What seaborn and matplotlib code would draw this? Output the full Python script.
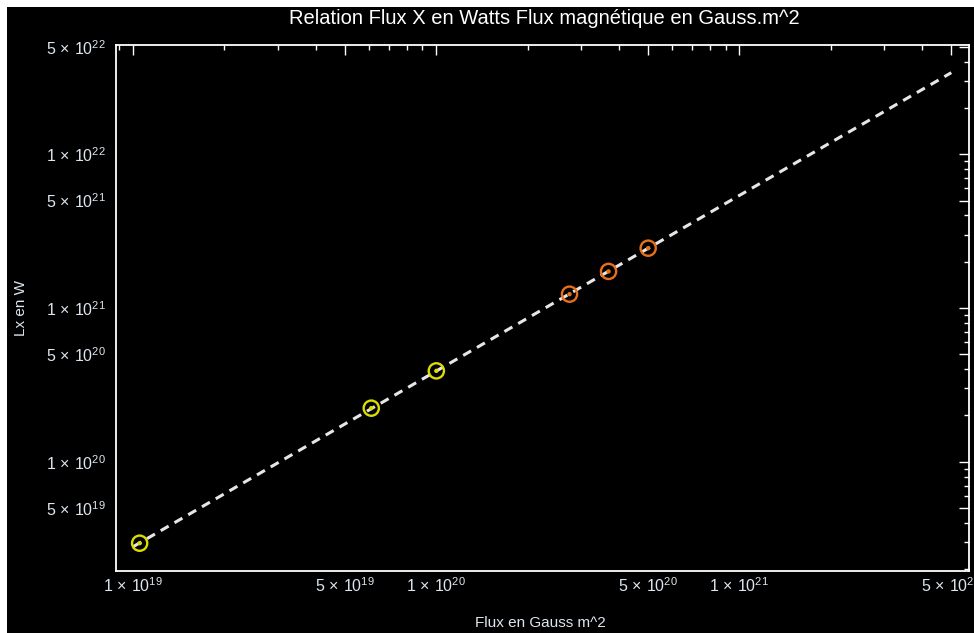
import numpy as np
import pandas as pd
import matplotlib
matplotlib.use("Agg")
import matplotlib.pyplot as plt
import matplotlib.ticker as mticker
from matplotlib.patches import Rectangle
import seaborn as sns

# Data
flux_gauss_m2 = [1.05e19, 6.1e19, 1.0e20, 2.75e20, 3.7e20, 5.0e20]
lx_watts = [2.95e19, 2.23e20, 3.9e20, 1.23e21, 1.73e21, 2.45e21]
groups = ["A", "A", "A", "B", "B", "B"]
group_colors = {"A": "#dcdc00", "B": "#e8701a"}
fit_range = [1.0e19, 5.0e21]

title = "Relation Flux X en Watts Flux magnétique en Gauss.m^2"
xlabel = "Flux en Gauss m^2"
ylabel = "Lx en W"

sns.set_style("dark")
plt.rcParams['font.family'] = ['Liberation Sans Narrow', 'Liberation Sans', 'DejaVu Sans']
plt.rcParams['mathtext.fontset'] = 'custom'
plt.rcParams['mathtext.rm'] = 'Liberation Sans'
plt.rcParams['mathtext.it'] = 'Liberation Sans'

df = pd.DataFrame({"flux": flux_gauss_m2, "lx": lx_watts, "group": groups})

# regression line in log-log space
coef = np.polyfit(np.log10(df["flux"]), np.log10(df["lx"]), 1)
fx = np.array(fit_range)
fit_df = pd.DataFrame({"flux": fx, "lx": 10 ** np.polyval(coef, np.log10(fx))})

fig = plt.figure(figsize=(9.74, 6.33), dpi=100, facecolor="white")
fig.patches.append(Rectangle((7 / 974, 0), 1, 1 - 7 / 633, transform=fig.transFigure,
                             facecolor="black", edgecolor="none", zorder=-5))
ax = fig.add_axes([115.5 / 974, 1 - 571 / 633, (969 - 115.5) / 974, (571 - 44.5) / 633])
ax.set_facecolor("black")

sns.lineplot(data=fit_df, x="flux", y="lx", ax=ax, color="#e6e6e6", linewidth=2.2,
             zorder=2)
ax.lines[-1].set_dashes([3.0, 2.2])

n0 = len(ax.collections)
sns.scatterplot(data=df, x="flux", y="lx", hue="group", palette=group_colors, ax=ax,
                s=120, marker="o", linewidth=1.7, legend=False, zorder=3)
ring = ax.collections[n0]
ring.set_facecolor("none")
ring.set_edgecolor([group_colors[g] for g in groups])
# inner dots
sns.scatterplot(data=df, x="flux", y="lx", hue="group", palette=group_colors, ax=ax,
                s=10, marker="o", linewidth=0, legend=False, zorder=4)

ax.set_xscale("log")
ax.set_yscale("log")
ax.set_xlim(8.74e18, 5.72e21)
ax.set_ylim(1.945e19, 5.18e22)


def fmt(v, pos=None):
    e = int(np.floor(np.log10(v) + 1e-9))
    m = int(round(v / 10 ** e))
    return r"$%d\,\times\,10^{%d}$" % (m, e)


for axis in (ax.xaxis, ax.yaxis):
    axis.set_major_locator(mticker.LogLocator(base=10, subs=(1.0, 5.0)))
    axis.set_minor_locator(mticker.LogLocator(base=10, subs=(2, 3, 4, 6, 7, 8, 9)))
    axis.set_major_formatter(mticker.FuncFormatter(fmt))
    axis.set_minor_formatter(mticker.NullFormatter())

ax.tick_params(which="both", direction="in", top=True, right=True, colors="white",
               labelcolor="#dde6ee", labelsize=11.5, width=1.0)
ax.tick_params(which="major", length=7)
ax.tick_params(which="minor", length=3.5)
ax.tick_params(axis="x", pad=4)
ax.tick_params(axis="y", pad=7)

for s in ax.spines.values():
    s.set_color("white")
    s.set_linewidth(1.3)
    s.set_visible(True)
ax.grid(False)

ax.set_xlabel("")
ax.set_ylabel("")
fig.text(544 / 974, 1 - 18 / 633, title, ha="center", va="center", color="white", fontsize=14.5)
fig.text(540 / 974, 1 - 623 / 633, xlabel, ha="center", va="center", color="#dde6ee", fontsize=11)
fig.text(21 / 974, 1 - 308 / 633, ylabel, ha="center", va="center", color="#dde6ee",
         fontsize=11, rotation=90)

fig.savefig("out.png", dpi=100, facecolor=fig.get_facecolor())
